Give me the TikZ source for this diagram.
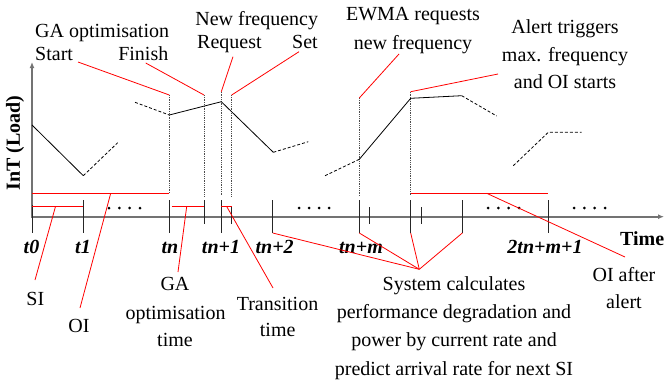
\documentclass[tikz,border=0pt]{standalone}
\usepackage{fontspec}
\setmainfont{Liberation Serif}[Ligatures=TeX]
\newfontfamily\labelfont{Liberation Serif}
\usetikzlibrary{arrows.meta}

\tikzset{
  axisline/.style={draw=black!55, line width=1.6pt},
  tickline/.style={draw=black!85, line width=0.9pt},
  guideline/.style={draw=black!70, line width=0.8pt, densely dotted},
  leader/.style={draw=red, line width=0.8pt},
  loadline/.style={draw=black, line width=0.8pt},
  loadest/.style={loadline, dash pattern=on 3pt off 2pt},
  lbl/.style={inner sep=0pt, anchor=base},
  ticklbl/.style={lbl, font=\labelfont\fontsize{20}{24}\selectfont\bfseries\itshape},
  dotmark/.style={fill=black, draw=none},
}

\begin{document}
\begin{tikzpicture}[x=1pt, y=-1pt, font=\labelfont\fontsize{20}{24}\selectfont]
\useasboundingbox (0,0) rectangle (664,383);

% ---------- time instants on the axis ----------
\coordinate (O)     at (32,216.7);
\coordinate (ytop)  at (32,62);
\coordinate (xend)  at (664,216.7);

% ---------- axes ----------
\draw[axisline, -{Latex[length=6pt,width=5pt]}] (32,218) -- (ytop);
\draw[axisline, -{Latex[length=6pt,width=5pt]}] (O) -- (xend);

\node[lbl, anchor=center, rotate=90, font=\labelfont\fontsize{20}{24}\selectfont\bfseries] (ylab) at (15,143) {InT (Load)};
\node[lbl, anchor=base west, font=\labelfont\fontsize{20}{24}\selectfont\bfseries] (tlab) at (620,245) {Time};

% ---------- ticks below the curve ----------
\coordinate (t0a) at (32,205);    \coordinate (t0b) at (32,233);
\coordinate (t1a) at (83.3,200);  \coordinate (t1b) at (83.3,233);
\coordinate (tna) at (169.3,200); \coordinate (tnb) at (169.3,233);
\coordinate (fna) at (204,200);   \coordinate (fnb) at (204,224);
\coordinate (n1a) at (221.3,200); \coordinate (n1b) at (221.3,233);
\coordinate (sta) at (231.7,206); \coordinate (stb) at (231.7,224);
\coordinate (n2a) at (272.7,200); \coordinate (n2b) at (272.7,233);
\coordinate (nma) at (359.3,200); \coordinate (nmb) at (359.3,233);
\coordinate (s1a) at (369.3,207); \coordinate (s1b) at (369.3,224);
\coordinate (ala) at (410.7,200); \coordinate (alb) at (410.7,233);
\coordinate (s2a) at (421,207);   \coordinate (s2b) at (421,224);
\coordinate (t3a) at (462.3,200); \coordinate (t3b) at (462.3,233);
\coordinate (tea) at (548.3,200); \coordinate (teb) at (548.3,233);

\foreach \a/\b in {t0a/t0b,t1a/t1b,tna/tnb,fna/fnb,n1a/n1b,sta/stb,n2a/n2b,
                   nma/nmb,s1a/s1b,ala/alb,s2a/s2b,t3a/t3b,tea/teb}
  \draw[tickline] (\a) -- (\b);

% ---------- event markers above the axis ----------
\coordinate (tnu) at (169.3,95);  \coordinate (tnd) at (169.3,193.3);
\coordinate (fnu) at (204,95);    \coordinate (fnd) at (204,196);
\coordinate (n1u) at (221.3,91.7);\coordinate (n1d) at (221.3,196);
\coordinate (stu) at (231.7,95);  \coordinate (std) at (231.7,196);
\coordinate (nmu) at (359.3,98);  \coordinate (nmd) at (359.3,196);
\coordinate (alu) at (410.7,91.7);\coordinate (ald) at (410.7,196);

\foreach \a/\b in {tnu/tnd,fnu/fnd,n1u/n1d,stu/std,nmu/nmd,alu/ald}
  \draw[guideline] (\a) -- (\b);

% ---------- load curve ----------
\draw[loadline] (32,125) -- (83.3,175.7);
\draw[loadest]  (83.3,175.7) -- (117.7,142.7);
\draw[loadest]  (135,102.3) -- (169.3,115);
\draw[loadline] (169.3,115) -- (221.3,101.7) -- (273.3,152.3);
\draw[loadest]  (273.3,152.3) -- (308.3,141.7);
\draw[loadest]  (325,175.7) -- (359.3,159.3);
\draw[loadline] (359.3,159.3) -- (410.7,98.3) -- (461.7,95.7);
\draw[loadest]  (461.7,95.7) -- (496.7,116);
\draw[loadest]  (513.3,165.7) -- (548.3,132.3) -- (581.7,132.3);

% ---------- elided intervals ----------
\foreach \x in {109,119.3,129.7,140, 299,309,319,329, 488,498.3,508.7,519, 574,584.3,594.7,605}
  \fill[dotmark] (\x,208) circle (1.5);

% ---------- intervals ----------
\coordinate (oi0) at (32,193.3);   \coordinate (oi1) at (169.3,193.3);
\coordinate (si0) at (32,206.5);   \coordinate (si1) at (83.3,206.5);
\coordinate (ga0) at (171.5,206.5);\coordinate (ga1) at (204,206.5);
\coordinate (tr0) at (221.3,206.5);\coordinate (tr1) at (231.7,206.5);
\coordinate (oa0) at (410.7,193.3);\coordinate (oa1) at (548.3,193.3);
\draw[leader] (oi0) -- (oi1);
\draw[leader] (si0) -- (si1);
\draw[leader] (ga0) -- (ga1);
\draw[leader] (tr0) -- (tr1);
\draw[leader] (oa0) -- (oa1);

% ---------- tick labels ----------
\node[ticklbl] (lt0) at (31.5,253.3) {t0};
\node[ticklbl] (lt1) at (83,253.3) {t1};
\node[ticklbl] (ltn) at (170,253.3) {tn};
\node[ticklbl] (ltn1) at (221,253.3) {tn+1};
\node[ticklbl] (ltn2) at (274.7,253.3) {tn+2};
\node[ticklbl] (ltnm) at (361,253.3) {tn+m};
\node[ticklbl] (lte) at (545,253.3) {2tn+m+1};

% ---------- top labels ----------
\node[lbl, anchor=base west] (gaopt) at (35,37) {GA optimisation};
\node[lbl, anchor=base west] (gastart) at (35,60.5) {Start};
\node[lbl, anchor=base east] (gafin) at (168.5,60.5) {Finish};
\node[lbl] (nf) at (256.7,25) {New frequency};
\node[lbl, anchor=base west] (nfreq) at (197,48.3) {Request};
\node[lbl, anchor=base east] (nfset) at (318,48.3) {Set};
\node[lbl] (ew1) at (413,20) {EWMA requests};
\node[lbl] (ew2) at (413,49.3) {new frequency};
\node[lbl] (al1) at (565,33.3) {Alert triggers};
\node[lbl] (al2) at (565,61.7) {max. frequency};
\node[lbl] (al3) at (565,88.3) {and OI starts};

% ---------- bottom labels ----------
\node[lbl] (si) at (35.3,305) {SI};
\node[lbl] (oi) at (79,332.3) {OI};
\node[lbl] (gat1) at (175,290) {GA};
\node[lbl] (gat2) at (175.5,319.3) {optimisation};
\node[lbl] (gat3) at (175,346.7) {time};
\node[lbl] (trt1) at (277.5,310) {Transition};
\node[lbl] (trt2) at (277.7,336.7) {time};
\node[lbl] (sy1) at (454,290) {System calculates};
\node[lbl] (sy2) at (454,318.3) {performance degradation and};
\node[lbl] (sy3) at (454,346.7) {power by current rate and};
\node[lbl] (sy4) at (454,375) {predict arrival rate for next SI};
\node[lbl] (oat1) at (624,281.7) {OI after};
\node[lbl] (oat2) at (624,308.3) {alert};

% ---------- leader ends ----------
\coordinate (siend)  at (35,280);
\coordinate (oiend)  at (80,308);
\coordinate (gaend)  at (178,272);
\coordinate (trend)  at (273,288);
\coordinate (oaend)  at (625,257);
\coordinate (syhub)  at (419.3,269.3);
\coordinate (stend)  at (78,62);
\coordinate (fnend)  at (145.7,63);
\coordinate (rqend)  at (233,56.7);
\coordinate (stsend) at (299,51.7);
\coordinate (ewend)  at (399,54);
\coordinate (alend)  at (498,74);

% ---------- leaders ----------
\draw[leader] (55.5,206.5) -- (siend);
\draw[leader] (110.7,193.3) -- (oiend);
\draw[leader] (186.7,206.5) -- (gaend);
\draw[leader] (226.7,206.5) -- (trend);
\draw[leader] (486.7,193.3) -- (oaend);
\draw[leader] (n2b) -- (syhub);
\draw[leader] (nmb) -- (syhub);
\draw[leader] (alb) -- (syhub);
\draw[leader] (t3b) -- (syhub);
\draw[leader] (tnu) -- (stend);
\draw[leader] (fnu) -- (fnend);
\draw[leader] (n1u) -- (rqend);
\draw[leader] (stu) -- (stsend);
\draw[leader] (nmu) -- (ewend);
\draw[leader] (alu) -- (alend);
\end{tikzpicture}
\end{document}
